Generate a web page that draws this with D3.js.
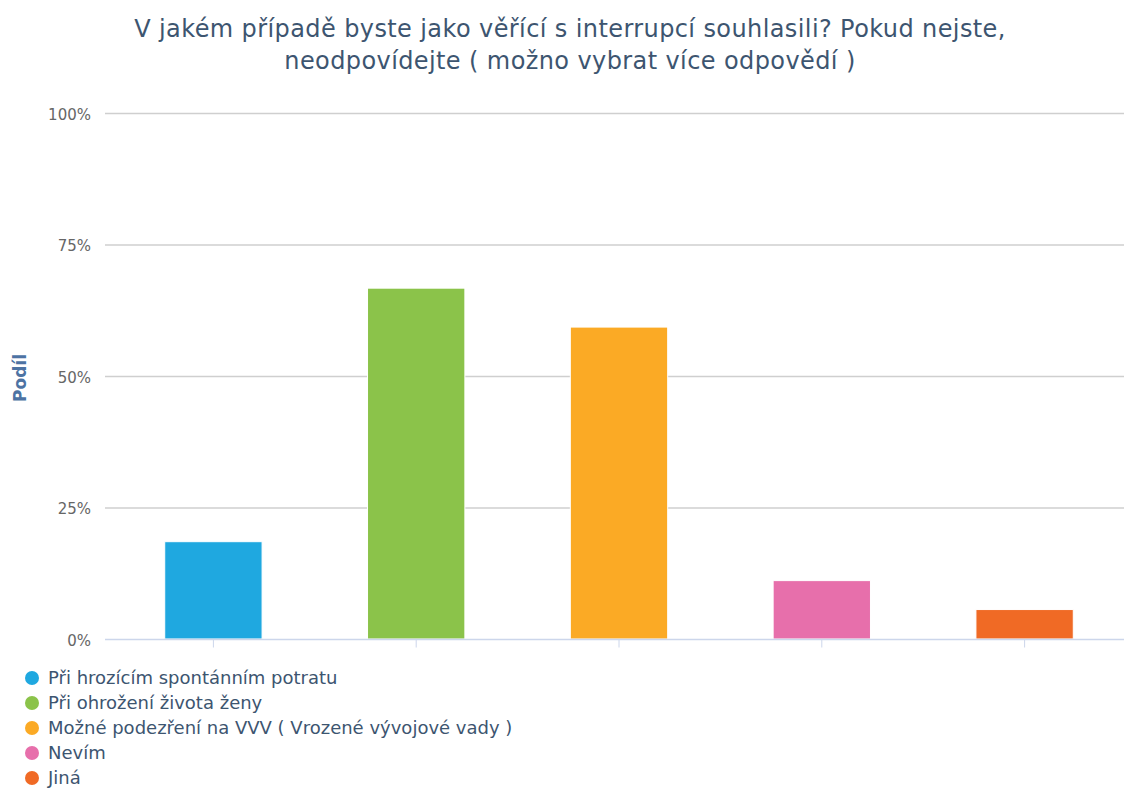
<!DOCTYPE html>
<html>
<head>
<meta charset="utf-8">
<script src="https://cdn.jsdelivr.net/npm/d3@7"></script>
<style>
  html, body { margin: 0; padding: 0; background: #fff; }
  svg { display: block; font-family: "DejaVu Sans", Verdana, sans-serif; }
</style>
</head>
<body>
<svg id="chart" width="1124" height="789"></svg>
<script>
// Answer options (legend + bars)
const categories = [
  "Při hrozícím spontánním potratu",
  "Při ohrožení života ženy",
  "Možné podezření na VVV ( Vrozené vývojové vady )",
  "Nevím",
  "Jiná"
];
// Share of respondents, in percent
const shares = [18.5, 66.7, 59.3, 11.1, 5.6];
const colors = ["#1fa8e0", "#8bc34a", "#fbaa25", "#e76fab", "#f06a25"];
const yTicks = [0, 25, 50, 75, 100];
const titleLines = [
  "V jakém případě byste jako věřící s interrupcí souhlasili? Pokud nejste,",
  "neodpovídejte ( možno vybrat více odpovědí )"
];
const yAxisTitle = "Podíl";

const svg = d3.select("#chart");
const plot = { left: 105, right: 1124, top: 113, bottom: 639 };

const x = d3.scaleBand()
  .domain(categories)
  .range([112, 1126])
  .paddingInner(0.52)
  .paddingOuter(0.26);

const y = d3.scaleLinear().domain([0, 100]).range([plot.bottom, plot.top]);

// Title
svg.append("g").selectAll("text")
  .data(titleLines)
  .join("text")
  .attr("x", 570)
  .attr("y", (d, i) => 37 + i * 32)
  .attr("text-anchor", "middle")
  .attr("fill", "#3d5570")
  .style("font-size", "24px")
  .style("letter-spacing", "0.4px")
  .text(d => d);

// Horizontal gridlines
svg.append("g").selectAll("line")
  .data(yTicks.filter(t => t > 0))
  .join("line")
  .attr("x1", plot.left).attr("x2", plot.right)
  .attr("y1", d => y(d) + 0.5).attr("y2", d => y(d) + 0.5)
  .attr("stroke", "#cfcfcf")
  .attr("stroke-width", 1.5);

// Y axis labels
const yAxis = d3.axisLeft(y)
  .tickValues(yTicks)
  .tickSize(0)
  .tickPadding(0)
  .tickFormat(d => d + "%");
svg.append("g")
  .attr("transform", "translate(91,0)")
  .call(yAxis)
  .call(g => g.select(".domain").remove())
  .selectAll("text")
  .attr("fill", "#666")
  .attr("dy", "0.4em")
  .style("font-size", "15px")
  .style("font-family", "DejaVu Sans, sans-serif");

// Y axis title
svg.append("text")
  .attr("transform", "translate(26,378) rotate(-90)")
  .attr("text-anchor", "middle")
  .attr("fill", "#4d73a3")
  .style("font-size", "17px")
  .style("font-weight", "bold")
  .text(yAxisTitle);

// Bars
svg.append("g").selectAll("rect")
  .data(categories)
  .join("rect")
  .attr("x", d => x(d))
  .attr("width", x.bandwidth())
  .attr("y", (d, i) => y(shares[i]))
  .attr("height", (d, i) => y(0) - y(shares[i]))
  .attr("fill", (d, i) => colors[i])
  .attr("stroke", "#ffffff")
  .attr("stroke-width", 1);

// X axis line and ticks
const xAxis = d3.axisBottom(x).tickSize(8).tickFormat("");
svg.append("g")
  .attr("transform", `translate(0,${plot.bottom + 0.5})`)
  .call(xAxis)
  .call(g => g.select(".domain").remove())
  .selectAll("line")
  .attr("stroke", "#ccd6eb");
svg.append("line")
  .attr("x1", plot.left).attr("x2", plot.right)
  .attr("y1", plot.bottom + 0.5).attr("y2", plot.bottom + 0.5)
  .attr("stroke", "#ccd6eb")
  .attr("stroke-width", 1.5);

// Legend
const legend = svg.append("g").selectAll("g")
  .data(categories)
  .join("g")
  .attr("transform", (d, i) => `translate(0,${678 + i * 25})`);
legend.append("circle")
  .attr("cx", 32).attr("cy", 0).attr("r", 7)
  .attr("fill", (d, i) => colors[i]);
legend.append("text")
  .attr("x", 48).attr("y", 0).attr("dy", "0.35em")
  .attr("fill", "#3d5570")
  .style("font-size", "18px")
  .text(d => d);
</script>
</body>
</html>
